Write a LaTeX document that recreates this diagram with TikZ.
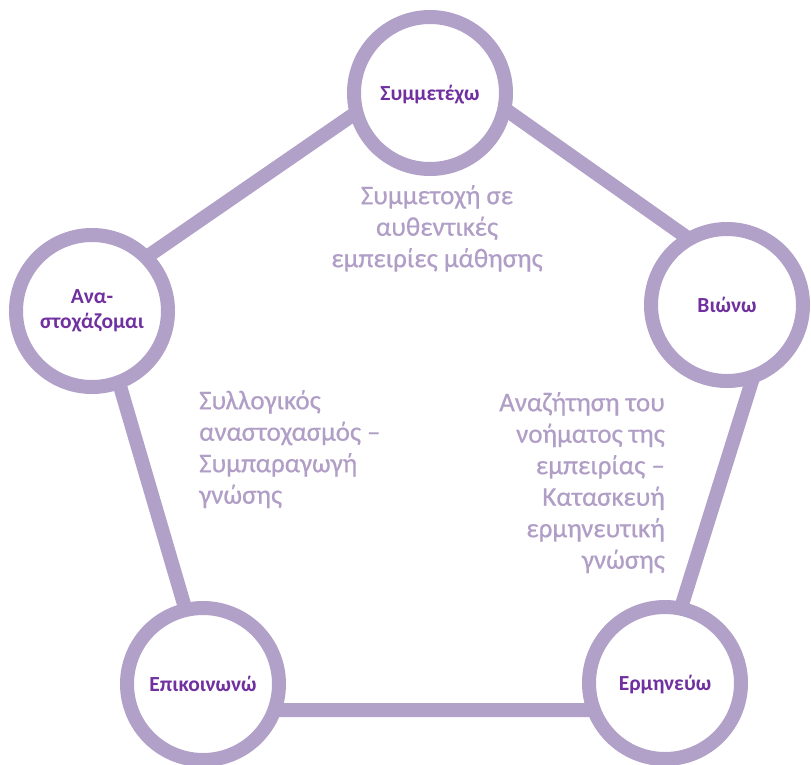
\documentclass[tikz,border=0pt]{standalone}
\usepackage{fontspec}
\setmainfont{Carlito}
\definecolor{ring}{RGB}{177,160,199}
\definecolor{lbl}{RGB}{112,48,160}
\definecolor{bodyc}{RGB}{176,158,198}
\begin{document}
\begin{tikzpicture}[x=1pt,y=-1pt,
  edge/.style={draw=ring, line width=14pt, line join=miter},
  ringc/.style={circle, draw=ring, line width=14pt, fill=white, minimum size=152pt, inner sep=0pt},
  lab/.style={font=\bfseries\fontsize{21.5}{25}\selectfont, text=lbl, align=center},
  one/.style={text height=14pt, text depth=0pt},
  bodytxt/.style={font=\fontsize{27}{31.5}\selectfont\addfontfeature{FakeBold=0.6}, text=bodyc, inner sep=0pt}]
\useasboundingbox (0,0) rectangle (811,764);
\coordinate (v1) at (434,59);
\coordinate (v2) at (777,301);
\coordinate (v3) at (649,710);
\coordinate (v4) at (215,710);
\coordinate (v5) at (93,294);
\draw[edge] (v1) -- (v2) -- (v3) -- (v4) -- (v5) -- cycle;
\node[ringc, lab, one] (top) at (430,93) {Συμμετέχω};
\node[ringc, lab, one] (right) at (727,305) {Βιώνω};
\node[ringc, lab, one] (br) at (665,683) {Ερμηνεύω};
\node[ringc, lab, one] (bl) at (203,684) {Επικοινωνώ};
\node[ringc, lab] (left) at (92,311) {Ανα-\\στοχάζομαι};
\node[bodytxt, align=center, anchor=north] (t1) at (437,185) {Συμμετοχή σε\\αυθεντικές\\εμπειρίες μάθησης};
\node[bodytxt, align=left, anchor=north west] (t2) at (199,390) {Συλλογικός\\αναστοχασμός –\\Συμπαραγωγή\\γνώσης};
\node[bodytxt, align=right, anchor=north east] (t3) at (665,392) {Αναζήτηση του\\νοήματος της\\εμπειρίας –\\Κατασκευή\\ερμηνευτική\\γνώσης};
\end{tikzpicture}
\end{document}
